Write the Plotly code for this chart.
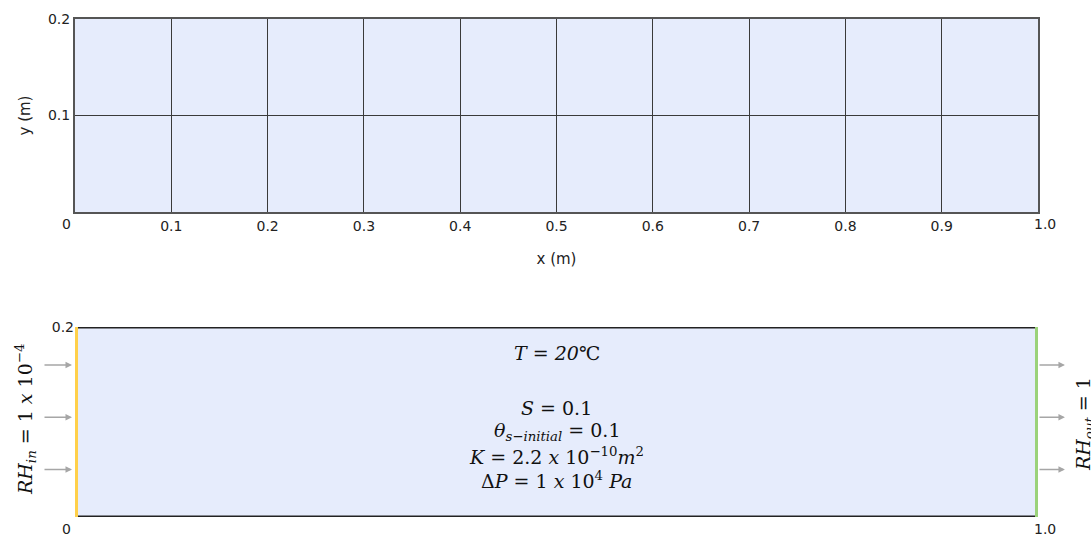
import plotly.graph_objects as go

# ---- data ----
x_grid = [0.1, 0.2, 0.3, 0.4, 0.5, 0.6, 0.7, 0.8, 0.9]
x_labels = ["0.1", "0.2", "0.3", "0.4", "0.5", "0.6", "0.7", "0.8", "0.9"]
y_grid = [0.1, 0.2]
y_labels = ["0.1", "0.2"]
x_range = [0, 1.0]
y_range = [0, 0.2]
arrow_y = [0.05, 0.105, 0.16]
params = [
    "<i>T</i> = <i>20</i>℃",
    "<i>S</i> = 0.1",
    "<i>θ<sub>s−initial</sub></i> = 0.1",
    "<i>K</i> = 2.2 <i>x</i> 10<sup>−10</sup><i>m</i><sup>2</sup>",
    "Δ<i>P</i> = 1 <i>x</i> 10<sup>4</sup> <i>Pa</i>",
]
param_rows = [353, 408, 431, 456, 480]

fill = "#E6ECFC"
gridc = "#3a3a3a"
tickfont = dict(family="DejaVu Sans", size=14, color="#222")
serif = dict(family="DejaVu Serif", size=19, color="#111")

fig = go.Figure()
fig.add_trace(go.Scatter(x=x_range, y=y_range, mode="markers", marker=dict(opacity=0),
                         hoverinfo="skip", showlegend=False, xaxis="x", yaxis="y"))
fig.add_trace(go.Scatter(x=x_range, y=y_range, mode="markers", marker=dict(opacity=0),
                         hoverinfo="skip", showlegend=False, xaxis="x2", yaxis="y2"))

W, H = 1091, 542
xd = [75 / W, 1038 / W]
fig.update_layout(
    width=W, height=H,
    margin=dict(l=0, r=0, t=0, b=0, pad=0),
    paper_bgcolor="white",
    plot_bgcolor=fill,
    showlegend=False,
    xaxis=dict(domain=xd, range=x_range, tickvals=x_grid, ticktext=x_labels,
               showgrid=True, gridcolor=gridc, gridwidth=1, zeroline=False,
               showline=True, linecolor="#555", linewidth=2, mirror=True,
               tickfont=tickfont, ticks="", anchor="y", automargin=False,
               title=dict(text="x (m)", font=dict(family="DejaVu Sans", size=15, color="#222"), standoff=21)),
    yaxis=dict(domain=[330 / H, 523 / H], range=y_range, tickvals=y_grid, ticktext=y_labels,
               showgrid=True, gridcolor=gridc, gridwidth=1, zeroline=False,
               showline=True, linecolor="#555", linewidth=2, mirror=True,
               tickfont=tickfont, ticks="", anchor="x", automargin=False,
               title=dict(text="y (m)", font=dict(family="DejaVu Sans", size=15, color="#222"), standoff=14)),
    xaxis2=dict(domain=xd, range=x_range, showgrid=False, zeroline=False, showticklabels=False,
                showline=False, anchor="y2", automargin=False),
    yaxis2=dict(domain=[25 / H, 215 / H], range=y_range, showgrid=False, zeroline=False,
                tickvals=[0.2], ticktext=["0.2"], tickfont=tickfont, ticks="",
                showline=False, anchor="x2", automargin=False),
)

# bottom panel edges
fig.add_shape(type="line", xref="x2", yref="y2", x0=x_range[0], x1=x_range[1], y0=y_range[1], y1=y_range[1],
              line=dict(color="#222", width=3))
fig.add_shape(type="line", xref="x2", yref="y2", x0=x_range[0], x1=x_range[1], y0=y_range[0], y1=y_range[0],
              line=dict(color="#222", width=3))
fig.add_shape(type="line", xref="x2", yref="y2", x0=x_range[0], x1=x_range[0], y0=y_range[0], y1=y_range[1],
              line=dict(color="#FFD04A", width=6))
fig.add_shape(type="line", xref="x2", yref="y2", x0=x_range[1], x1=x_range[1], y0=y_range[0], y1=y_range[1],
              line=dict(color="#9BD27A", width=6))

# corner labels
for xr, yr in (("x", "y"), ("x2", "y2")):
    fig.add_annotation(text="0", xref=xr + " domain", yref=yr + " domain", x=0, y=0,
                       xanchor="right", yanchor="top", yshift=-2, xshift=-2,
                       showarrow=False, font=tickfont)
    fig.add_annotation(text="1.0", xref=xr + " domain", yref=yr + " domain", x=1, y=0,
                       xanchor="left", yanchor="top", yshift=-2, xshift=-6,
                       showarrow=False, font=tickfont)

# arrows
for ya in arrow_y:
    fig.add_annotation(x=0, y=ya, xref="x2 domain", yref="y2", ax=-32, ay=0,
                       text="", showarrow=True, arrowhead=2, arrowsize=1, arrowwidth=1.3,
                       arrowcolor="#a6a6a6", standoff=3)
    fig.add_annotation(x=1.028, y=ya, xref="x2 domain", yref="y2", ax=-27, ay=0,
                       text="", showarrow=True, arrowhead=2, arrowsize=1, arrowwidth=1.3,
                       arrowcolor="#a6a6a6")

# center parameters
for txt, yp in zip(params, param_rows):
    fig.add_annotation(text=txt, xref="x2 domain", yref="paper", x=0.5,
                       y=1 - yp / H, xanchor="center", yanchor="middle",
                       showarrow=False, font=serif)

# side labels
fig.add_annotation(text="<i>RH<sub>in</sub></i> = 1 <i>x</i> 10<sup>−4</sup>", xref="paper", yref="paper",
                   x=25 / W, y=1 - 420 / H, xanchor="center", yanchor="middle",
                   showarrow=False, textangle=-90, font=serif)
fig.add_annotation(text="<i>RH<sub>out</sub></i> = 1", xref="paper", yref="paper",
                   x=1084 / W, y=1 - 424 / H, xanchor="center", yanchor="middle",
                   showarrow=False, textangle=-90, font=serif)

fig.write_html("out.html", config={"displayModeBar": False},
               post_script="document.body.style.margin='0';")
